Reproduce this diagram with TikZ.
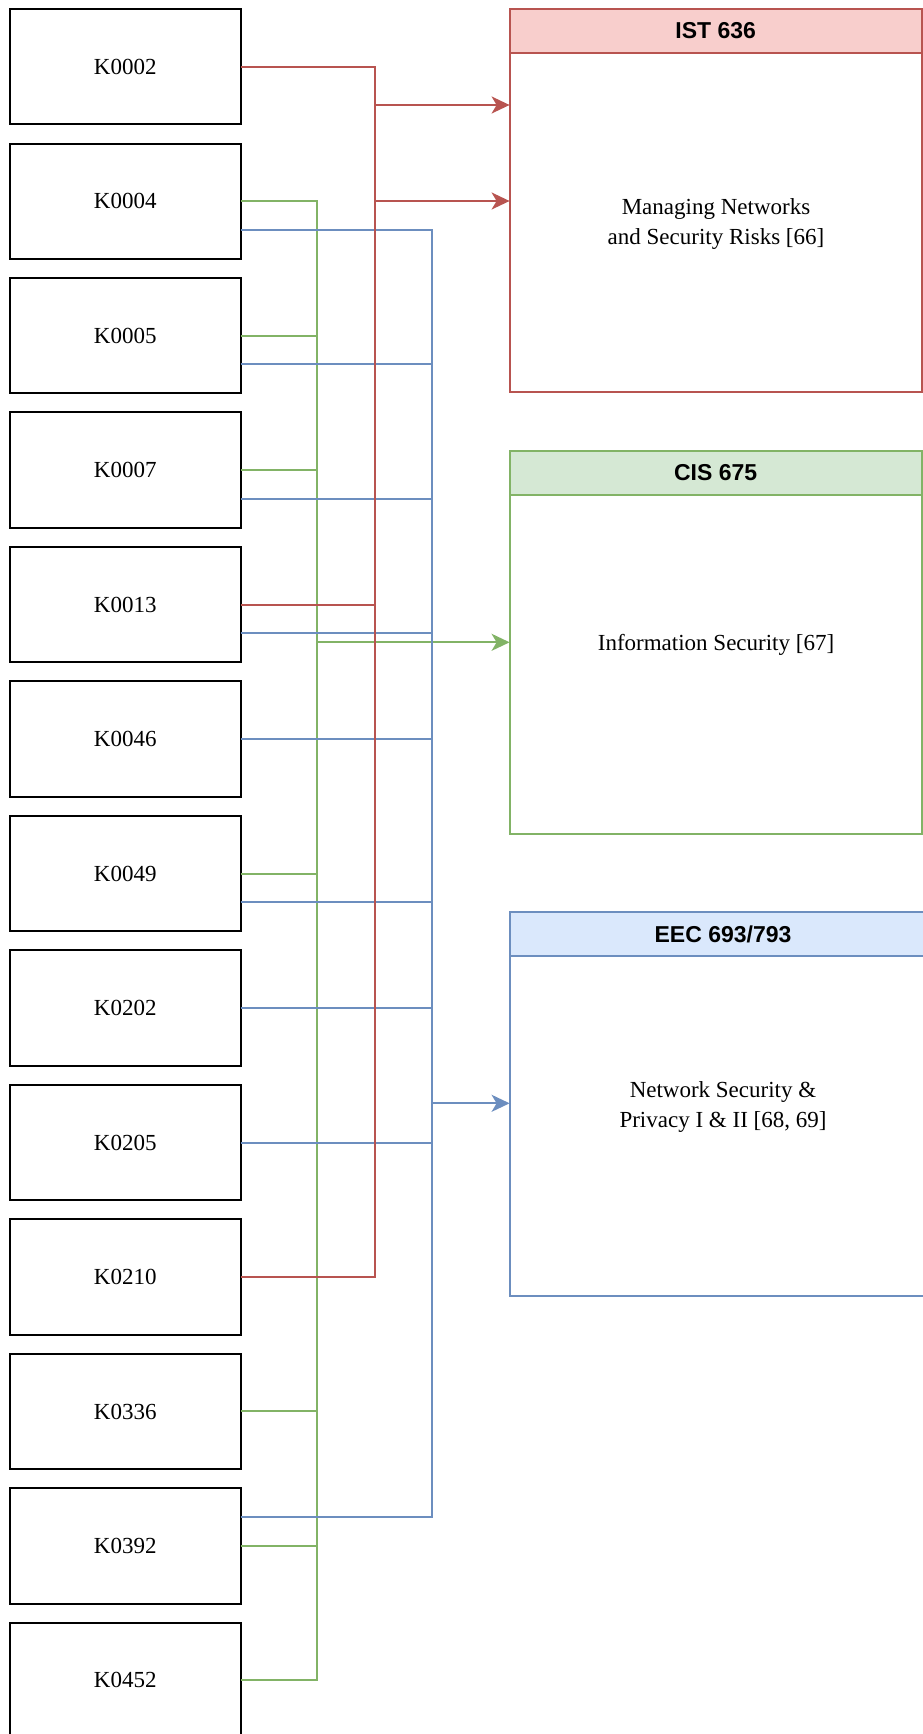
\documentclass[tikz,border=0pt]{standalone}
\usepackage{fontspec}
\setmainfont{Liberation Serif}
\newfontfamily\headfont{Liberation Sans}
\usetikzlibrary{arrows.meta,calc}

\definecolor{rstroke}{HTML}{B85450}
\definecolor{rfill}{HTML}{F8CECC}
\definecolor{gstroke}{HTML}{82B366}
\definecolor{gfill}{HTML}{D5E8D4}
\definecolor{bstroke}{HTML}{6C8EBF}
\definecolor{bfill}{HTML}{DAE8FC}

\tikzset{
  kbox/.style={draw=black, fill=white, line width=2pt, minimum width=230.5pt,
    minimum height=115.3pt, inner sep=0pt, outer sep=0pt,
    font=\fontsize{23}{28.7}\selectfont},
  coursebox/.style={fill=white, line width=2pt, minimum height=383.6pt,
    inner sep=0pt, outer sep=0pt, anchor=north west},
  coursehead/.style={line width=2pt, minimum height=43.8pt, inner sep=0pt,
    outer sep=0pt, anchor=north west,
    font=\headfont\bfseries\fontsize{23}{28}\selectfont},
  coursetext/.style={align=center, inner sep=0pt,
    font=\fontsize{23}{29.5}\selectfont},
  link/.style={line width=2pt},
  redlink/.style={link, draw=rstroke},
  greenlink/.style={link, draw=gstroke},
  bluelink/.style={link, draw=bstroke},
  tip/.style={-{Stealth[length=18pt, width=17pt, inset=5pt]}},
}

\begin{document}
\begin{tikzpicture}[x=1pt, y=-1pt]
\useasboundingbox (0,0) rectangle (923,1734);

% knowledge unit boxes, one column on the left
\foreach \n/\lbl [count=\i from 0] in {k0002/K0002, k0004/K0004, k0005/K0005,
    k0007/K0007, k0013/K0013, k0046/K0046, k0049/K0049, k0202/K0202,
    k0205/K0205, k0210/K0210, k0336/K0336, k0392/K0392, k0452/K0452}
  \node[kbox] (\n) at ({125.25},{66.7+134.475*\i}) {\lbl};

% course boxes on the right
\node[coursebox, draw=rstroke, minimum width=412.1pt] (ist) at (509.6,8.8) {};
\node[coursehead, draw=rstroke, fill=rfill, minimum width=412.1pt] (ist-head)
  at (ist.north west) {IST 636};
\node[coursetext] (ist-text) at (716,224) {Managing Networks\\and Security Risks [66]};

\node[coursebox, draw=gstroke, minimum width=412.1pt] (cis) at (509.6,450.8) {};
\node[coursehead, draw=gstroke, fill=gfill, minimum width=412.1pt] (cis-head)
  at (cis.north west) {CIS 675};
\node[coursetext] (cis-text) at (716,645) {Information Security [67]};

\node[coursebox, draw=bstroke, minimum width=426.8pt] (eec) at (509.6,912.2) {};
\node[coursehead, draw=bstroke, fill=bfill, minimum width=426.8pt] (eec-head)
  at (eec.north west) {EEC 693/793};
\node[coursetext] (eec-text) at (723,1107) {Network Security \&\\Privacy I \& II [68, 69]};

% bus lines and entry points
\coordinate (gbus) at (317.3,0);
\coordinate (rbus) at (375,0);
\coordinate (bbus) at (432.3,0);
\coordinate (ist-in1) at (509.6,105);
\coordinate (ist-in2) at (509.6,201);
\coordinate (cis-in) at (509.6,642.3);
\coordinate (eec-in) at (509.6,1103.3);

% green links to CIS 675
\foreach \n in {k0004,k0005,k0007,k0049,k0336,k0392,k0452}
  \draw[greenlink] (\n.east) -| (gbus |- cis-in);
\draw[greenlink, tip] (gbus |- cis-in) -- (cis-in);

% blue links to EEC 693/793
\foreach \n in {k0004,k0005,k0007,k0013,k0049}
  \draw[bluelink] ([yshift=-28.8pt]\n.east) -| (bbus |- eec-in);
\foreach \n in {k0046,k0202,k0205}
  \draw[bluelink] (\n.east) -| (bbus |- eec-in);
\draw[bluelink] ([yshift=28.8pt]k0392.east) -| (bbus |- eec-in);
\draw[bluelink, tip] (bbus |- eec-in) -- (eec-in);

% red links to IST 636
\draw[redlink, tip] (k0002.east) -| (rbus |- ist-in2) -- (ist-in2);
\draw[redlink, tip] (k0013.east) -| (rbus |- ist-in1) -- (ist-in1);
\draw[redlink] (k0210.east) -| (rbus |- ist-in2);
\end{tikzpicture}
\end{document}
